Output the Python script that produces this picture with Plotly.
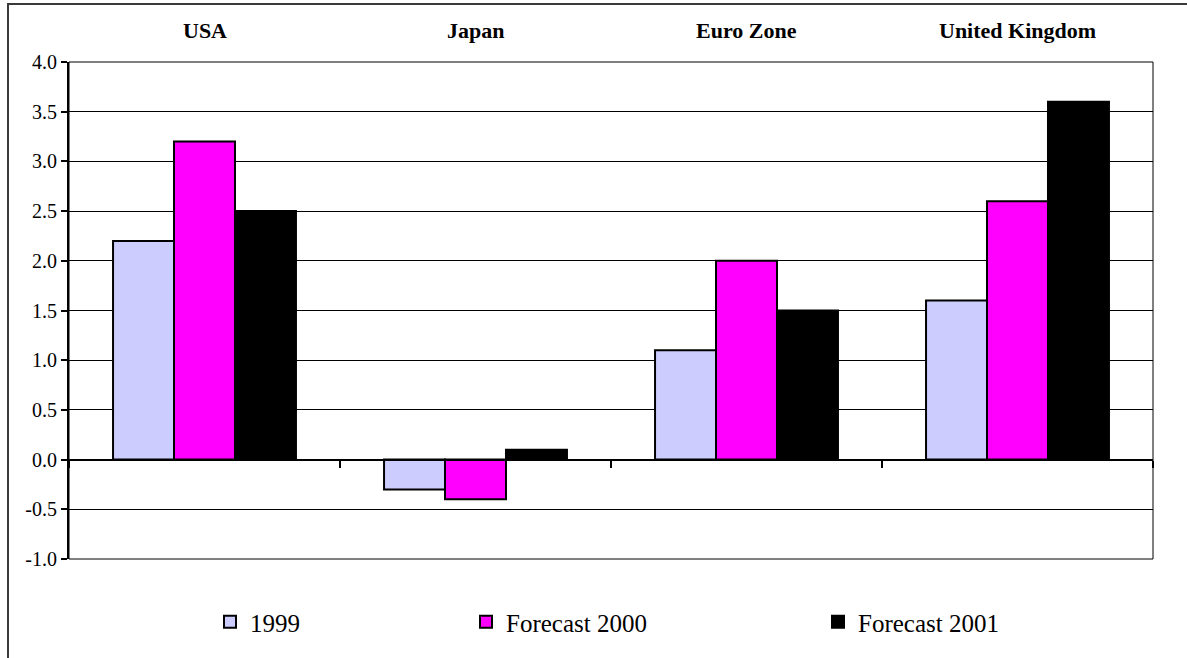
import plotly.graph_objects as go

# Regions and growth values (%)
regions = ["USA", "Japan", "Euro Zone", "United Kingdom"]
series_names = ["1999", "Forecast 2000", "Forecast 2001"]
values_1999 = [2.2, -0.3, 1.1, 1.6]
values_2000 = [3.2, -0.4, 2.0, 2.6]
values_2001 = [2.5, 0.1, 1.5, 3.6]
y_ticks = [-1.0, -0.5, 0.0, 0.5, 1.0, 1.5, 2.0, 2.5, 3.0, 3.5, 4.0]
y_tick_labels = ["-1.0", "-0.5", "0.0", "0.5", "1.0", "1.5", "2.0", "2.5", "3.0", "3.5", "4.0"]

colors = ["#CCCCFF", "#FF00FF", "#000000"]
legend_ids = ["legend", "legend2", "legend3"]

W, H = 1187, 658
ML, MR, MT, MB = 69, 34, 62, 99
PW, PH = W - ML - MR, H - MT - MB
FONT = "Liberation Serif"


def px_to_paper_x(px):
    return (px - ML) / PW


def px_to_paper_y(py):
    return (H - MB - py) / PH


fig = go.Figure()
for name, vals, col, lg in zip(series_names, [values_1999, values_2000, values_2001], colors, legend_ids):
    fig.add_trace(go.Bar(
        x=regions, y=vals, name=name, legend=lg,
        marker=dict(color=col, line=dict(color="#000000", width=2)),
    ))

# Region labels above the plot
annotations = [
    dict(x=r, y=px_to_paper_y(30), xref="x", yref="paper", text=f"<b>{r}</b>",
         showarrow=False, font=dict(family=FONT, size=22, color="#000"),
         xanchor="center", yanchor="middle")
    for r in regions
]

shapes = [
    # plot-area frame
    dict(type="rect", xref="paper", yref="paper", x0=0, x1=1, y0=0, y1=1,
         line=dict(color="#000000", width=1), layer="below"),
    # outer chart frame (left and top edges)
    dict(type="line", xref="paper", yref="paper",
         x0=px_to_paper_x(8), x1=px_to_paper_x(8), y0=px_to_paper_y(4), y1=px_to_paper_y(H + 5),
         line=dict(color="#3a3a3a", width=2)),
    dict(type="line", xref="paper", yref="paper",
         x0=px_to_paper_x(7), x1=px_to_paper_x(W + 5), y0=px_to_paper_y(4), y1=px_to_paper_y(4),
         line=dict(color="#3a3a3a", width=2)),
]

legend_left_px = [210, 466, 818]
legend_layouts = {}
for lg, lx in zip(legend_ids, legend_left_px):
    legend_layouts[lg] = dict(
        x=px_to_paper_x(lx), y=px_to_paper_y(622), xanchor="left", yanchor="middle",
        orientation="h", font=dict(family=FONT, size=25, color="#000"),
        bgcolor="rgba(0,0,0,0)", borderwidth=0,
    )

fig.update_layout(
    width=W, height=H,
    margin=dict(l=ML, r=MR, t=MT, b=MB, pad=0),
    paper_bgcolor="#ffffff", plot_bgcolor="#ffffff",
    barmode="group", bargap=0.325, bargroupgap=0,
    font=dict(family=FONT, color="#000"),
    showlegend=True,
    annotations=annotations,
    shapes=shapes,
    **legend_layouts,
)

fig.update_xaxes(
    type="category", showticklabels=False, showgrid=False,
    anchor="free", position=(0 - y_ticks[0]) / (y_ticks[-1] - y_ticks[0]),
    showline=True, linecolor="#000000", linewidth=2,
    ticks="outside", tickson="boundaries", ticklen=7, tickwidth=2, tickcolor="#000000",
)
fig.update_yaxes(
    range=[y_ticks[0], y_ticks[-1]], tickvals=y_ticks, ticktext=y_tick_labels,
    showgrid=True, gridcolor="#000000", gridwidth=1, zeroline=False,
    showline=True, linecolor="#000000", linewidth=2,
    ticks="outside", ticklen=6, tickwidth=2, tickcolor="#000000",
    tickfont=dict(family=FONT, size=20, color="#000"),
)

fig.write_html("out.html")
